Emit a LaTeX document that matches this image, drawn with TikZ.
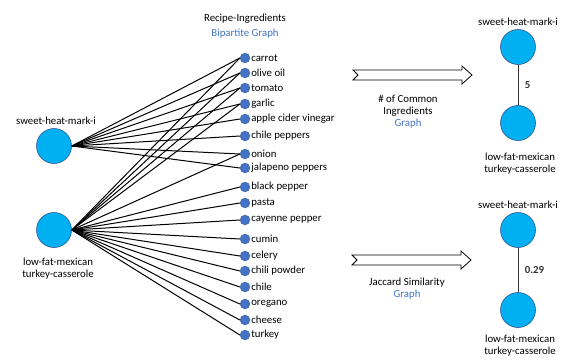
\documentclass[tikz,border=0pt]{standalone}
\usepackage{fontspec}
\setmainfont{Carlito}
\usetikzlibrary{positioning}
\definecolor{recipeblue}{HTML}{00B0F0}
\definecolor{dotblue}{HTML}{4472C4}
\definecolor{ringblue}{HTML}{2F5597}

\begin{document}
\begin{tikzpicture}[x=1pt,y=-1pt,font=\fontsize{10.8}{14}\selectfont,
		recipe/.style={circle,fill=recipeblue,draw=ringblue,line width=0.6pt,minimum size=35pt,inner sep=0pt},
		ingdot/.style={circle,fill=dotblue,draw=dotblue!70!black,very thin,minimum size=10pt,inner sep=0pt},
		ingtext/.style={right,inner sep=1pt},
		edge/.style={line width=1pt,black},
		bluetext/.style={text=dotblue},
		fatarrow/.style={draw=black,line width=0.8pt,fill=white}]
		\useasboundingbox (0,0) rectangle (572,362);

		% Bipartite graph
		\node at (245,19) {Recipe-Ingredients};
		\node[bluetext] at (245,34) {Bipartite Graph};

		\node[recipe] (sweet) at (54,146) {};
		\node (sweetlab) at (56,121) {sweet-heat-mark-i};
		\node[recipe] (lowfat) at (54,230) {};
		\node[align=center] (lowfatlab) at (58,269) {low-fat-mexican\\[-2pt]turkey-casserole};

		\foreach \y/\name [count=\i] in {58/carrot,73/olive oil,88/tomato,104/garlic,119/apple cider vinegar,
			136/chile peppers,154/onion,168/jalapeno peppers,187/black pepper,203/pasta,220/cayenne pepper,
			239/cumin,256/celery,271/chili powder,287/chile,304/oregano,320/cheese,335/turkey}{
			\node[ingdot] (ing\i) at (245,\y) {};
			\node[ingtext] at (ing\i.east) {\name};
		}

		\foreach \i in {1,...,8}
			\draw[edge] (sweet.east) -- (ing\i.west);
		\foreach \i in {1,2,3,4,7,9,10,11,12,13,14,15,16,17,18}
			\draw[edge] (lowfat.east) -- (ing\i.west);

		% Common ingredients
		\draw[fatarrow] (353,70) -- (462,70) -- (462,66) -- (472,75) -- (462,84) -- (462,80) -- (353,80) -- (358,75) -- cycle;
		\node[align=center] at (408,112) {\# of Common\\[-2pt]Ingredients\\[-2pt]\textcolor{dotblue}{Graph}};

		\node (sweetlabA) at (518,22) {sweet-heat-mark-i};
		\node[recipe] (sweetA) at (518,47) {};
		\node[recipe] (lowfatA) at (518,123) {};
		\node[align=center] (lowfatlabA) at (520,164) {low-fat-mexican\\[-2pt]turkey-casserole};
		\draw[line width=1pt,black!80] (sweetA) -- node[right=3pt,font=\fontsize{10.8}{14}\selectfont\bfseries] {5} (lowfatA);

		% Jaccard similarity
		\draw[fatarrow] (352,255) -- (461,255) -- (461,251) -- (471,260) -- (461,269) -- (461,265) -- (352,265) -- (357,260) -- cycle;
		\node[align=center] at (407,289) {Jaccard Similarity\\[-2pt]\textcolor{dotblue}{Graph}};

		\node (sweetlabB) at (518,205) {sweet-heat-mark-i};
		\node[recipe] (sweetB) at (518,230) {};
		\node[recipe] (lowfatB) at (518,310) {};
		\node[align=center] (lowfatlabB) at (520,346) {low-fat-mexican\\[-2pt]turkey-casserole};
		\draw[line width=1pt,black!80] (sweetB) -- node[right=3pt,font=\fontsize{10.8}{14}\selectfont\bfseries] {0.29} (lowfatB);
	\end{tikzpicture}
\end{document}
